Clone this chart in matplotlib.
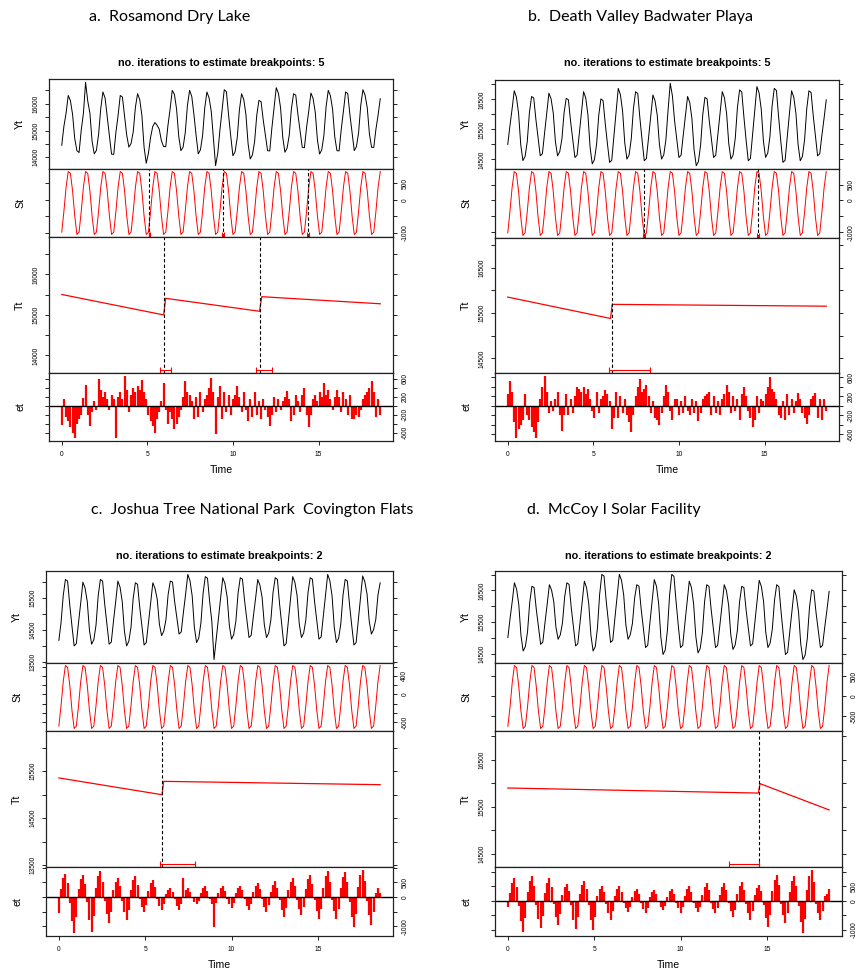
import matplotlib
matplotlib.use("Agg")
import matplotlib.pyplot as plt
import numpy as np
from matplotlib.ticker import FixedLocator, FixedFormatter

W, H, DPI = 856, 974, 100

# ---------------- data ----------------
T_END = 18.6
N_OBS = 148
time = np.linspace(0, T_END, N_OBS)

panel_titles = ["a.  Rosamond Dry Lake", "b.  Death Valley Badwater Playa",
                "c.  Joshua Tree National Park  Covington Flats", "d.  McCoy I Solar Facility"]
iterations = [5, 5, 2, 2]
component_names = ["Yt", "St", "Tt", "et"]
x_ticks = [0, 5, 10, 15]

# observed series Yt
yt_a = [14450, 15160, 15650, 16310, 16120, 15600, 14700, 14250,
        14180, 15020, 15640, 16800, 16100, 15650, 14600, 14130,
        14260, 14850, 15820, 16440, 16220, 15500, 14800, 14120,
        14110, 14930, 15560, 16310, 16250, 15520, 14820, 14380,
        14520, 14960, 15870, 16380, 16150, 15560, 14380, 13780,
        14150, 14750, 15150, 15300, 15200, 15050, 14620, 14400,
        14400, 15180, 15800, 16500, 16350, 15800, 14780, 14250,
        14380, 14920, 15930, 16500, 16280, 15600, 14830, 14130,
        14280, 14810, 15850, 16440, 16220, 15720, 14680, 13690,
        14150, 15010, 15760, 16525, 16450, 15580, 14790, 14060,
        14210, 14740, 15780, 16375, 16160, 15600, 14510, 13940,
        14090, 14580, 15570, 16125, 16080, 15390, 14830, 14250,
        14240, 15110, 15840, 16600, 16390, 15840, 14750, 14190,
        14340, 14830, 15820, 16375, 16320, 15600, 14980, 14375,
        14360, 15120, 15730, 16400, 16200, 15680, 14650, 14125,
        14280, 14830, 15890, 16500, 16300, 15790, 14770, 14250,
        14240, 15050, 15720, 16440, 16380, 15590, 14910, 14250,
        14400, 14920, 15940, 16525, 16320, 15850, 14870, 14375,
        14370, 15050, 15580, 16190]
yt_b = [15000, 15610, 16180, 16790, 16580, 16040, 14990, 14460,
        14600, 15090, 16060, 16600, 16550, 15830, 15210, 14620,
        14690, 15380, 16030, 16710, 16520, 16050, 15090, 14620,
        14760, 15180, 16060, 16540, 16490, 15770, 15160, 14565,
        14640, 15360, 16050, 16760, 16550, 15990, 14910, 14350,
        14490, 15000, 15970, 16520, 16460, 15700, 15030, 14400,
        14470, 15290, 16080, 16870, 16660, 16110, 15060, 14510,
        14650, 15180, 16190, 16760, 16700, 15870, 15140, 14456,
        14530, 15250, 15940, 16650, 16450, 15970, 15000, 14510,
        14650, 15160, 16150, 17040, 16620, 15790, 15170, 14565,
        14640, 15310, 15940, 16600, 16400, 15860, 14820, 14290,
        14430, 14970, 15990, 16570, 16520, 15790, 15170, 14565,
        14640, 15360, 16050, 16760, 16560, 16040, 15030, 14510,
        14650, 15200, 16230, 16820, 16750, 15910, 15150, 14456,
        14530, 15340, 16140, 16930, 16720, 16170, 15110, 14565,
        14710, 15260, 16280, 16870, 16800, 15930, 15120, 14400,
        14470, 15260, 16030, 16790, 16580, 16040, 15000, 14456,
        14600, 15160, 16190, 16790, 16730, 15950, 15270, 14620,
        14690, 15310, 15880, 16490]
yt_c = [14170, 14730, 15580, 16090, 16040, 15280, 14620, 13995,
        14070, 14730, 15350, 16005, 15820, 15390, 14490, 14050,
        14190, 14650, 15580, 16090, 16040, 15300, 14660, 14050,
        14120, 14780, 15390, 16040, 15850, 15390, 14460, 13995,
        14140, 14580, 15490, 15985, 15940, 15220, 14610, 14025,
        14100, 14740, 15350, 15985, 15810, 15470, 14680, 14320,
        14460, 14820, 15620, 16040, 16010, 15380, 14880, 14370,
        14440, 15060, 15630, 16250, 16050, 15570, 14590, 14100,
        14240, 14720, 15660, 16180, 16130, 15390, 14760, 13565,
        14220, 14880, 15500, 16145, 15960, 15540, 14640, 14210,
        14350, 14780, 15660, 16145, 16100, 15410, 14830, 14260,
        14330, 14930, 15490, 16090, 15910, 15520, 14670, 14260,
        14400, 14810, 15680, 16145, 16090, 15310, 14640, 13995,
        14070, 14790, 15480, 16180, 16000, 15580, 14690, 14260,
        14400, 14810, 15680, 16145, 16100, 15390, 14790, 14210,
        14280, 14950, 15590, 16250, 16050, 15570, 14590, 14100,
        14240, 14690, 15590, 16090, 16040, 15290, 14640, 14025,
        14100, 14810, 15500, 16200, 16020, 15630, 14780, 14370,
        14510, 14830, 15600, 15985]
yt_d = [15015, 15610, 16150, 16740, 16540, 16060, 15080, 14590,
        14730, 15190, 16120, 16630, 16590, 15910, 15360, 14800,
        14870, 15490, 16070, 16680, 16510, 16150, 15340, 14960,
        15100, 15480, 16300, 16740, 16690, 15960, 15350, 14750,
        14820, 15490, 16130, 16790, 16590, 16090, 15090, 14590,
        14730, 15320, 16380, 17005, 16950, 16170, 15500, 14860,
        14930, 15640, 16310, 17005, 16820, 16360, 15420, 14960,
        15100, 15460, 16260, 16680, 16630, 15910, 15300, 14700,
        14770, 15480, 16150, 16840, 16630, 16080, 15030, 14480,
        14620, 15240, 16350, 17005, 16940, 16120, 15380, 14700,
        14770, 15460, 16110, 16790, 16590, 16070, 15050, 14530,
        14670, 15170, 16140, 16680, 16630, 15910, 15300, 14700,
        14770, 15420, 16040, 16680, 16490, 16040, 15100, 14640,
        14780, 15230, 16130, 16630, 16590, 15890, 15320, 14750,
        14820, 15500, 16150, 16820, 16620, 16150, 15180, 14700,
        14840, 15280, 16190, 16680, 16620, 15830, 15130, 14480,
        14550, 15220, 15860, 16520, 16320, 15820, 14820, 14320,
        14460, 14980, 15960, 16520, 16480, 15800, 15250, 14700,
        14770, 15350, 15890, 16470]

# seasonal component: one cycle (8 observations), repeated
st_cycle_a = [-980, -350, 380, 855, 800, 270, -490, -1050]
st_cycle_b = [-1020, -360, 400, 910, 855, 290, -520, -1100]
st_cycle_c = [-688, -244, 277, 627, 587, 198, -348, -740]
st_cycle_d = [-745, -265, 335, 760, 710, 240, -375, -800]

# trend component (piecewise linear: vertices)
tt_time_a = [0, 5.95, 6.07, 11.55, 11.68, 18.6]
tt_value_a = [15505, 15000, 15410, 15090, 15450, 15275]
tt_time_b = [0, 6.0, 6.1, 18.6]
tt_value_b = [15850, 15380, 15690, 15650]
tt_time_c = [0, 5.97, 6.07, 18.6]
tt_value_c = [15357, 14999, 15284, 15213]
tt_time_d = [0, 14.5, 14.6, 18.6]
tt_value_d = [15897, 15789, 15990, 15429]

# breakpoints and confidence intervals
trend_bp_a = [6.0, 11.6]
trend_ci_a = [(5.76, 6.4), (11.34, 12.3)]
trend_bp_b = [6.06]
trend_ci_b = [(5.93, 8.31)]
trend_bp_c = [6.0]
trend_ci_c = [(5.87, 7.86)]
trend_bp_d = [14.56]
trend_ci_d = [(12.78, 14.56)]
season_bp_a = [5.12, 9.4, 14.38]
season_ci_a = [(5.07, 5.17), (9.35, 9.45), (14.33, 14.43)]
season_bp_b = [7.97, 14.6]
season_ci_b = [(7.92, 8.02), (14.55, 14.65)]
season_bp_c = []
season_ci_c = []
season_bp_d = []
season_ci_d = []

# remainder component et
et_a = [-420, 150, -250, -350, -480, -600, -730, -400,
        -300, -200, 180, 470, -200, -450, -150, 100,
        -100, 600, 350, 200, 300, 150, -100, 250,
        150, -710, 200, 300, 150, 675, 350, -150,
        250, 400, 300, 450, 350, 585, 300, 150,
        -200, -350, -450, -600, -300, -150, 100, 510,
        -100, -400, -150, -300, -525, -400, -250, -100,
        200, 550, 300, 250, 100, -300, 200, -250,
        300, -150, 150, 250, 400, 620, 300, -640,
        200, 450, -300, 300, -150, 250, -200, 150,
        250, 450, 200, -150, 300, -100, -350, 150,
        -250, 300, -200, 100, -300, 150, -100, -250,
        -450, -200, 200, -150, 150, -100, 100, 200,
        330, 150, -350, -200, 250, 100, -150, 250,
        400, -200, -470, -200, 150, 250, 100, 300,
        200, 500, 250, 350, 150, -100, 200, 350,
        200, -150, 300, 150, -200, 250, -300, -300,
        -200, -250, -100, 150, 250, 300, 400, 550,
        300, -250, 150, -200]
et_b = [250, 520, 300, -350, -670, -500, -400, -300,
        250, -200, -300, -450, -550, -690, -350, 150,
        400, 640, 300, -150, 100, -100, 150, 300,
        -200, -530, -200, 250, -200, 150, -150, 200,
        400, 350, 300, 400, 250, 350, 150, -100,
        -250, 300, -150, 150, 200, 340, 250, 100,
        -500, -250, 300, -250, 200, -150, 150, -200,
        -350, -560, -200, 200, 400, 560, 300, 350,
        450, 200, -150, 100, -250, -300, -400, -150,
        200, 450, 300, -100, -300, 150, 150, -200,
        100, -150, 200, -100, -200, 150, -150, 100,
        -330, -150, 150, 200, 250, 300, -200, 200,
        -150, 100, -200, 150, 250, 450, 300, -150,
        200, -100, 150, -300, 250, 400, 200, -100,
        -250, -440, -300, 200, -150, 150, 100, 250,
        400, 600, 350, 300, 150, -200, -250, 100,
        -300, 250, -200, 150, -150, 100, 280, 150,
        -150, -250, -380, -200, 150, 200, 270, -250,
        150, -300, 150, -100]
et_c = [-550, 280, 640, 800, 480, -190, -810, -1240,
        -680, 270, 620, 770, 460, -180, -770, -1180,
        -650, 310, 710, 885, 530, -140, -590, -900,
        -500, 230, 520, 655, 390, -120, -510, -780,
        -430, 250, 570, 710, 430, -80, -330, -500,
        -280, 210, 480, 600, 360, -70, -290, -440,
        -240, 110, 250, 310, 190, -70, -290, -440,
        -240, 655, 240, 300, 180, -40, -160, -250,
        -140, 130, 300, 370, 220, -50, -230, -1010,
        -190, 130, 300, 370, 220, -60, -250, -380,
        -210, 140, 310, 390, 230, -70, -290, -440,
        -240, 170, 380, 480, 290, -80, -330, -500,
        -280, 190, 430, 540, 320, -100, -440, -670,
        -370, 230, 520, 655, 390, -90, -400, -610,
        -340, 270, 620, 770, 460, -110, -490, -760,
        -420, 310, 710, 885, 530, -110, -490, -760,
        -420, 300, 680, 850, 510, -150, -670, -1030,
        -570, 330, 750, 940, 560, -140, -620, -950,
        -520, 150, 300, 150]
et_d = [-200, 270, 620, 780, 470, -160, -690, -1060,
        -580, 290, 670, 840, 500, -140, -610, -940,
        -520, 270, 620, 780, 470, -120, -540, -830,
        -460, 210, 470, 590, 350, -150, -640, -980,
        -540, 230, 540, 670, 400, -150, -650, -1000,
        -550, 180, 420, 520, 310, -100, -430, -655,
        -360, 170, 400, 495, 300, -60, -240, -370,
        -200, 140, 320, 400, 240, -60, -280, -425,
        -230, 130, 300, 380, 230, -50, -200, -310,
        -170, 140, 320, 400, 240, -60, -260, -400,
        -220, 180, 420, 520, 310, -60, -240, -370,
        -200, 210, 490, 610, 370, -60, -280, -425,
        -230, 210, 490, 610, 370, -80, -350, -540,
        -300, 220, 500, 630, 380, -100, -430, -655,
        -360, 190, 440, 550, 330, -140, -590, -910,
        -500, 320, 720, 900, 540, -120, -500, -770,
        -420, 290, 670, 840, 500, -170, -720, -1115,
        -610, 370, 860, 1070, 640, -100, -430, -655,
        -360, 150, 250, 400]

# axis tick values and labels (R skips overlapping labels)
yt_ticks_a = [14000, 14500, 15000, 15500, 16000, 16500]
yt_tlabels_a = ["14000", "", "15000", "", "16000", ""]
yt_ticks_b = [14500, 15000, 15500, 16000, 16500, 17000]
yt_tlabels_b = ["14500", "", "15500", "", "16500", ""]
yt_ticks_c = [13500, 14000, 14500, 15000, 15500, 16000]
yt_tlabels_c = ["13500", "", "14500", "", "15500", ""]
yt_ticks_d = [14500, 15000, 15500, 16000, 16500, 17000]
yt_tlabels_d = ["14500", "", "15500", "", "16500", ""]
st_ticks_ab = [-1000, -500, 0, 500]
st_tlabels_ab = ["-1000", "", "0", "500"]
st_ticks_c = [-600, -400, -200, 0, 200, 400, 600]
st_tlabels_c = ["-600", "", "", "0", "", "400", ""]
st_ticks_d = [-500, 0, 500]
st_tlabels_d = ["-500", "0", "500"]
et_ticks_ab = [-600, -400, -200, 0, 200, 400, 600]
et_tlabels_ab = ["-600", "", "-200", "", "200", "", "600"]
et_ticks_cd = [-1000, -500, 0, 500, 1000]
et_tlabels_cd = ["-1000", "", "0", "500", ""]

panels = [
    dict(yt=yt_a, st_cycle=st_cycle_a, et=et_a, tt_t=tt_time_a, tt_v=tt_value_a,
         tbp=trend_bp_a, tci=trend_ci_a, sbp=season_bp_a, sci=season_ci_a,
         yticks=(yt_ticks_a, yt_tlabels_a), sticks=(st_ticks_ab, st_tlabels_ab),
         eticks=(et_ticks_ab, et_tlabels_ab)),
    dict(yt=yt_b, st_cycle=st_cycle_b, et=et_b, tt_t=tt_time_b, tt_v=tt_value_b,
         tbp=trend_bp_b, tci=trend_ci_b, sbp=season_bp_b, sci=season_ci_b,
         yticks=(yt_ticks_b, yt_tlabels_b), sticks=(st_ticks_ab, st_tlabels_ab),
         eticks=(et_ticks_ab, et_tlabels_ab)),
    dict(yt=yt_c, st_cycle=st_cycle_c, et=et_c, tt_t=tt_time_c, tt_v=tt_value_c,
         tbp=trend_bp_c, tci=trend_ci_c, sbp=season_bp_c, sci=season_ci_c,
         yticks=(yt_ticks_c, yt_tlabels_c), sticks=(st_ticks_c, st_tlabels_c),
         eticks=(et_ticks_cd, et_tlabels_cd)),
    dict(yt=yt_d, st_cycle=st_cycle_d, et=et_d, tt_t=tt_time_d, tt_v=tt_value_d,
         tbp=trend_bp_d, tci=trend_ci_d, sbp=season_bp_d, sci=season_ci_d,
         yticks=(yt_ticks_d, yt_tlabels_d), sticks=(st_ticks_d, st_tlabels_d),
         eticks=(et_ticks_cd, et_tlabels_cd)),
]

# ---------------- layout (pixels) ----------------
layouts = [
    dict(x0=49, x1=393, ys=[79, 169, 237, 373, 441], title=(170, 17), main=(221, 63)),
    dict(x0=495, x1=839, ys=[80, 169, 238, 373, 441], title=(640, 17), main=(667, 63)),
    dict(x0=46, x1=393, ys=[571, 663, 731, 867, 936], title=(252, 510), main=(219, 556)),
    dict(x0=495, x1=842, ys=[571, 663, 731, 867, 936], title=(614, 510), main=(668, 556)),
]

RED = "#ff0000"
TICK_FS = 4.8
LAB_FS = 7.6
plt.rcParams["font.family"] = ["Liberation Sans", "DejaVu Sans"]


def rrange(vals):
    lo, hi = min(vals), max(vals)
    pad = 0.04 * (hi - lo)
    return lo - pad, hi + pad


def px_axes(fig, x0, x1, y0, y1):
    return fig.add_axes([x0 / W, 1 - y1 / H, (x1 - x0) / W, (y1 - y0) / H])


def style_axis(ax, ticks, labels, side):
    ax.yaxis.set_major_locator(FixedLocator(ticks))
    ax.yaxis.set_major_formatter(FixedFormatter(labels))
    ax.tick_params(axis="y", which="major", length=3, width=0.6, direction="out",
                   left=True, right=True, labelleft=(side == "left"),
                   labelright=(side == "right"), labelsize=TICK_FS,
                   labelrotation=90, pad=(4 if side == "left" else 3))
    for lab in ax.get_yticklabels():
        lab.set_va("center")
    ax.tick_params(axis="x", which="both", bottom=False, top=False,
                   labelbottom=False)
    for s in ax.spines.values():
        s.set_linewidth(0.9)
        s.set_color("#222222")


def ci_bars(ax, bps, cis, ylim, frac):
    y = ylim[0] + frac * (ylim[1] - ylim[0])
    for bp, (lo, hi) in zip(bps, cis):
        ax.errorbar([bp], [y], xerr=[[bp - lo], [hi - bp]], fmt="none",
                    ecolor=RED, elinewidth=0.8, capsize=2.2, capthick=0.8)


fig = plt.figure(figsize=(W / DPI, H / DPI), dpi=DPI)
fig.patch.set_facecolor("white")

xlim = (-0.04 * T_END, 1.04 * T_END)

for i, (p, L) in enumerate(zip(panels, layouts)):
    x0, x1, ys = L["x0"], L["x1"], L["ys"]
    axes = [px_axes(fig, x0, x1, ys[j], ys[j + 1]) for j in range(4)]
    ax_y, ax_s, ax_t, ax_e = axes

    st = np.array((p["st_cycle"] * 20)[:N_OBS])
    ylim_y = rrange(p["yt"])

    # Yt
    ax_y.plot(time, p["yt"], color="black", lw=0.7)
    ax_y.set_ylim(ylim_y)
    style_axis(ax_y, *p["yticks"], "left")

    # St
    ax_s.plot(time, st, color=RED, lw=0.7)
    ylim_s = rrange(st)
    ax_s.set_ylim(ylim_s)
    for bp in p["sbp"]:
        ax_s.axvline(bp, color="black", ls=(0, (3, 2)), lw=0.8)
    if p["sbp"]:
        ci_bars(ax_s, p["sbp"], p["sci"], ylim_s, 0.03)
    style_axis(ax_s, *p["sticks"], "right")

    # Tt
    ax_t.plot(p["tt_t"], p["tt_v"], color=RED, lw=0.9)
    ax_t.set_ylim(ylim_y)
    for bp in p["tbp"]:
        ax_t.axvline(bp, color="black", ls=(0, (3, 2)), lw=0.8)
    ci_bars(ax_t, p["tbp"], p["tci"], ylim_y, 0.025)
    style_axis(ax_t, *p["yticks"], "left")

    # et
    ax_e.vlines(time, 0, p["et"], colors=RED, lw=1.6)
    ax_e.axhline(0, color="black", lw=1.0)
    ax_e.set_ylim(rrange(p["et"]))
    style_axis(ax_e, *p["eticks"], "right")
    ax_e.xaxis.set_major_locator(FixedLocator(x_ticks))
    ax_e.tick_params(axis="x", bottom=True, labelbottom=True, length=3, width=0.6,
                     labelsize=TICK_FS, pad=4)
    ax_e.set_xlabel("Time", fontsize=LAB_FS)
    ax_e.xaxis.set_label_coords(0.5, -(470 - 441) / (441 - 373))
    ax_e.xaxis.label.set_va("center")

    for ax, name in zip(axes, component_names):
        ax.set_xlim(xlim)
        ax.set_ylabel(name, fontsize=LAB_FS)
        ax.yaxis.set_label_position("left")
        ax.yaxis.set_label_coords(-29 / (x1 - x0), 0.5)
        ax.yaxis.label.set_va("center")

    tx, ty = L["title"]
    fig.text(tx / W, 1 - ty / H, panel_titles[i], ha="center", va="center",
             fontsize=11.5, family=["Lato", "DejaVu Sans"])
    mx, my = L["main"]
    fig.text(mx / W, 1 - my / H,
             f"no. iterations to estimate breakpoints: {iterations[i]}",
             ha="center", va="center", fontsize=7.8, fontweight="bold")

fig.savefig("out.png", dpi=DPI)
